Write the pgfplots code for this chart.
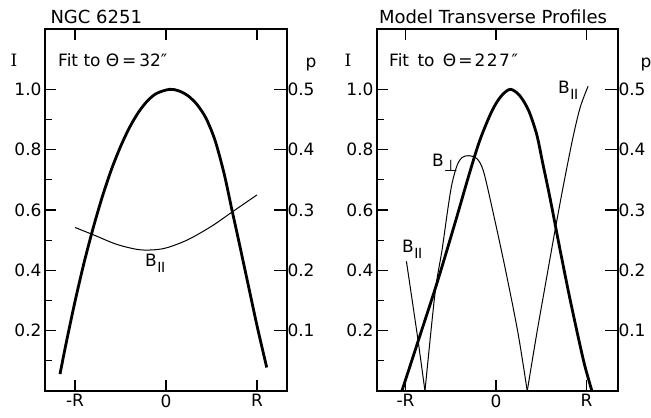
\documentclass[border=0pt]{standalone}
\usepackage{pgfplots}
\pgfplotsset{compat=1.18}
\usepackage{fontspec}
\setmainfont{DejaVu Sans}
\newfontfamily\serifI{DejaVu Serif}

\newcommand\labfont{\fontsize{17bp}{20bp}\selectfont}
\newcommand\Bpar{B\kern0.5bp\raisebox{-6bp}{\fontsize{14bp}{14bp}\selectfont I\kern-0.5bp I}}
\newcommand\Bperp{B\raisebox{-5bp}{\fontsize{16bp}{16bp}\selectfont ⊥}}

\pgfplotsset{
  frame I/.style={
    scale only axis, height=362bp, ymin=0, ymax=1.2,
    xtick={-1,0,1}, xticklabels={-R,0,R},
    ytick={0.2,0.4,0.6,0.8,1.0}, yticklabels={0.2,0.4,0.6,0.8,1.0},
    minor ytick={0.1,0.3,0.5,0.7,0.9},
    ytick pos=left, tick align=inside,
    major tick length=11bp, minor tick length=7bp,
    tick style={line width=1.2bp, black},
    axis line style={line width=1.3bp},
    every tick label/.append style={font=\labfont},
    clip=false,
  },
  frame p/.style={
    scale only axis, height=362bp, ymin=0, ymax=0.6,
    axis y line*=right, axis x line=none, tick align=inside,
    ytick={0.1,0.2,0.3,0.4,0.5}, yticklabels={0.1,0.2,0.3,0.4,0.5},
    major tick length=13bp,
    tick style={line width=1.2bp, black},
    axis line style={line width=1.3bp},
    every tick label/.append style={font=\labfont},
    yticklabel style={xshift=-3bp},
    clip=false,
  },
  intensity/.style={black, line width=2.8bp, smooth, no markers},
  polar/.style={black, line width=1bp, smooth, no markers},
}

\begin{document}
\begin{tikzpicture}[font=\labfont]
\useasboundingbox (0,0) rectangle (651bp,418bp);

% ---------------- NGC 6251 ----------------
\begin{axis}[frame I, at={(45bp,27bp)}, anchor=south west, width=242bp,
  xmin=-1.33, xmax=1.33]
\addplot[intensity] coordinates {
  (-1.165,0.056) (-1.1,0.155) (-1.0,0.297) (-0.9,0.426) (-0.8,0.541)
  (-0.7,0.644) (-0.6,0.734) (-0.5,0.810) (-0.4,0.874) (-0.3,0.925)
  (-0.2,0.963) (-0.1,0.987) (0.04,1.0) (0.14,0.995) (0.24,0.979)
  (0.34,0.950) (0.44,0.904) (0.54,0.830) (0.64,0.719) (0.72,0.607)
  (0.80,0.497) (0.90,0.357) (1.0,0.217) (1.107,0.078)
};
\end{axis}
\begin{axis}[frame p, at={(45bp,27bp)}, anchor=south west, width=242bp,
  xmin=-1.33, xmax=1.33]
\addplot[polar] coordinates {
  (-1.0,0.271) (-0.80,0.259) (-0.54,0.243) (-0.28,0.234) (-0.03,0.236)
  (0.23,0.25) (0.50,0.273) (0.73,0.297) (1.0,0.325)
};
\end{axis}

% ---------------- Model profiles ----------------
\begin{axis}[frame I, at={(377bp,27bp)}, anchor=south west, width=241bp,
  xmin=-1.315, xmax=1.348]
\addplot[intensity] coordinates {
  (-1.04,0) (-0.85,0.175) (-0.65,0.36) (-0.45,0.56) (-0.30,0.715)
  (-0.18,0.83) (-0.05,0.925) (0.05,0.975) (0.155,1.0) (0.26,0.98)
  (0.36,0.93) (0.45,0.85) (0.52,0.75) (0.60,0.635) (0.70,0.48)
  (0.80,0.33) (0.90,0.19) (0.98,0.085) (1.06,0)
};
\end{axis}
\begin{axis}[frame p, at={(377bp,27bp)}, anchor=south west, width=241bp,
  xmin=-1.315, xmax=1.348]
% B parallel, outer left branch
\addplot[polar, sharp plot] coordinates {
  (-0.99,0.215) (-0.862,0.085) (-0.785,0)
};
% B perpendicular
\addplot[polar] coordinates {
  (-0.785,0) (-0.674,0.162) (-0.597,0.233) (-0.53,0.304) (-0.486,0.344)
  (-0.43,0.374) (-0.376,0.387) (-0.30,0.39) (-0.21,0.385) (-0.14,0.365)
  (-0.044,0.304) (0.099,0.205) (0.243,0.096) (0.345,0)
};
% B parallel, right branch
\addplot[polar] coordinates {
  (0.345,0) (0.45,0.095) (0.55,0.18) (0.652,0.266) (0.75,0.345)
  (0.85,0.42) (0.93,0.47) (1.017,0.505)
};
\end{axis}

% ---------------- labels ----------------
\node[anchor=base west, font=\fontsize{18bp}{20bp}\selectfont] at (47bp,394bp) {NGC 6251};
\node[anchor=base, font=\fontsize{18bp}{20bp}\selectfont] at (493bp,394bp) {Model Transverse Profiles};
\node[anchor=base] at (14bp,351bp) {\serifI I};
\node[anchor=base] at (348bp,351bp) {\serifI I};
\node[anchor=base] at (311bp,350bp) {p};
\node[anchor=base] at (646bp,350bp) {p};
\node[anchor=base west, inner sep=0pt] at (58bp,351bp) {Fit to Θ\,=\,32″};
\node[anchor=base west, inner sep=0pt] at (389bp,351bp)
  {Fit\hspace{3bp} to\hspace{3bp} Θ\hspace{2bp}=\hspace{2bp}2\kern1.5bp 2\kern1.5bp 7\kern1.5bp″};
\node[anchor=base west, inner sep=0pt] at (145bp,151bp) {\Bpar};
\node[anchor=base west, inner sep=0pt] at (432bp,251bp) {\Bperp};
\node[anchor=base west, inner sep=0pt] at (402bp,165bp) {\Bpar};
\node[anchor=base west, inner sep=0pt] at (558bp,324bp) {\Bpar};
\end{tikzpicture}
\end{document}
